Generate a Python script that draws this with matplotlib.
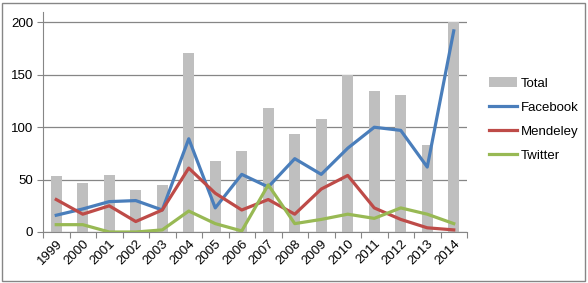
import numpy as np
import matplotlib
matplotlib.use('Agg')
import matplotlib.pyplot as plt
from matplotlib.patches import Rectangle

years = [str(y) for y in range(1999, 2015)]
total = [53, 47, 54, 40, 45, 171, 68, 77, 118, 94, 108, 150, 135, 131, 83, 200]
facebook = [16, 22, 29, 30, 21, 89, 23, 55, 43, 70, 55, 80, 100, 97, 62, 192]
mendeley = [31, 17, 25, 10, 21, 61, 37, 21, 31, 17, 41, 54, 23, 12, 4, 2]
twitter = [7, 7, 0, 0, 2, 20, 8, 1, 45, 8, 12, 17, 13, 23, 17, 8]

grid_c = '#868686'
plt.rcParams['font.family'] = ['Liberation Sans', 'DejaVu Sans']

fig = plt.figure(figsize=(5.88, 2.83), dpi=100)
ax = fig.add_axes([43 / 588, 51 / 283, 424 / 588, 220 / 283])

x = np.arange(len(years))
b = ax.bar(x, total, width=0.42, color='#BFBFBF', label='Total', zorder=2)
l1, = ax.plot(x, facebook, color='#4A7EBB', lw=2.3, label='Facebook', zorder=3)
l2, = ax.plot(x, mendeley, color='#BE4B48', lw=2.3, label='Mendeley', zorder=3)
l3, = ax.plot(x, twitter, color='#98B954', lw=2.3, label='Twitter', zorder=3)

ax.set_xlim(-0.5, len(years) - 0.5)
ax.set_ylim(0, 210)
ax.set_yticks([0, 50, 100, 150, 200])
ax.yaxis.grid(True, color=grid_c, lw=0.9, zorder=0)
ax.set_axisbelow(True)

# ticks at category boundaries, labels at centres
ax.set_xticks(np.arange(-0.5, len(years), 1))
ax.set_xticklabels([])
ax.set_xticks(x, minor=True)
ax.set_xticklabels(years, minor=True, rotation=45, ha='right',
                   rotation_mode='anchor', fontsize=9.5)
ax.tick_params(axis='x', which='minor', length=0, pad=4)
ax.tick_params(axis='x', which='major', length=4, color=grid_c, direction='out')
ax.tick_params(axis='y', length=4, color=grid_c, labelsize=9.5, pad=3)

for s in ['top', 'right']:
    ax.spines[s].set_visible(False)
for s in ['left', 'bottom']:
    ax.spines[s].set_color(grid_c)

leg = fig.legend([b, l1, l2, l3], ['Total', 'Facebook', 'Mendeley', 'Twitter'],
                 loc='upper left', bbox_to_anchor=(484 / 588, 1 - 72 / 283),
                 frameon=False, fontsize=9.5, handlelength=2.1,
                 labelspacing=0.9, handletextpad=0.3, borderaxespad=0)

fig.patches.append(Rectangle((2 / 588, 2 / 283), 583 / 588, 278 / 283,
                             transform=fig.transFigure, fill=False,
                             edgecolor='#868686', lw=1))

fig.savefig('out.png', dpi=100)
